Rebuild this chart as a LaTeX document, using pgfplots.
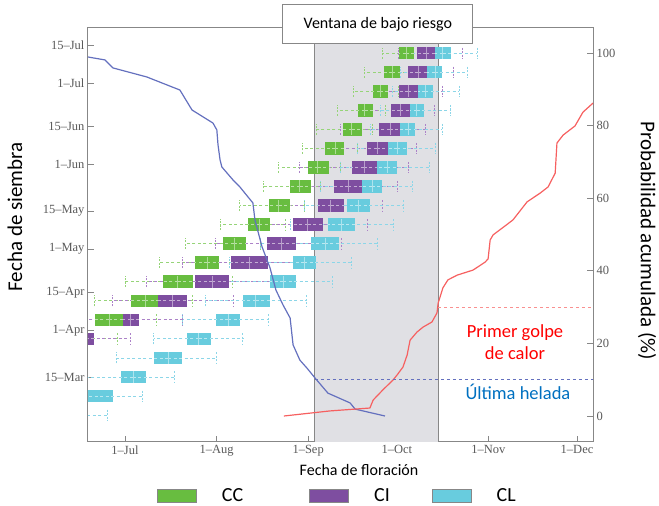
\documentclass[border=0pt]{standalone}
\usepackage{pgfplots}
\pgfplotsset{compat=1.18}
\usepackage{pgfplotstable}
\usepackage{fontspec}
\setmainfont{Carlito}
\newfontfamily\tickfont{Liberation Serif}

\definecolor{ccbox}{RGB}{104,189,64}
\definecolor{cibox}{RGB}{126,78,160}
\definecolor{clbox}{RGB}{104,204,222}
\definecolor{ccw}{RGB}{150,212,120}
\definecolor{ciw}{RGB}{172,130,200}
\definecolor{clw}{RGB}{140,214,232}
\definecolor{winbg}{RGB}{224,224,228}
\definecolor{framec}{RGB}{135,135,135}
\definecolor{bluecurve}{RGB}{100,112,190}
\definecolor{redcurve}{RGB}{246,96,96}
\definecolor{helada}{RGB}{0,112,192}

% sowing day-of-year, then flowering day-of-year: lower whisker, Q1, median, Q3, upper whisker
\pgfplotstableread{
row lw q1 med q3 uw
193 269.0 274.8 277.1 279.8 284.6
186 262.9 269.7 272.4 275.1 278.5
179 259.2 266.0 268.3 271.0 274.4
172 253.8 260.9 263.2 266.0 270.0
165 246.7 255.8 258.8 262.2 265.6
158 241.9 249.7 253.1 256.1 260.5
151 233.8 243.9 247.3 251.1 254.8
144 228.7 237.9 241.2 245.0 248.0
137 220.9 230.7 234.1 237.9 242.9
130 214.2 223.6 227.4 231.1 236.2
123 202.6 215.2 218.9 223.0 227.7
116 193.8 205.7 209.8 213.8 220.9
109 182.0 194.9 199.9 205.0 218.2
102 171.8 184.0 188.8 193.2 204.7
95 166.8 171.8 176.6 181.3 192.8
88 160.0 161.7 163.4 165.1 179.6
}\ccdata

\pgfplotstableread{
row lw q1 med q3 uw
193 274.4 280.8 283.9 286.9 296.1
186 270.0 277.8 281.2 284.2 293.0
179 266.6 274.8 277.8 281.2 289.6
172 261.6 272.0 275.1 278.5 286.6
165 254.8 268.0 271.7 275.1 283.6
158 249.7 263.9 267.3 271.0 280.8
151 241.2 258.8 262.9 267.3 277.8
144 237.9 252.8 257.5 262.2 274.1
137 231.1 247.3 251.7 256.1 269.0
130 224.3 238.9 243.9 249.0 263.9
123 212.5 230.1 234.8 239.9 255.1
116 201.3 217.9 224.0 230.4 241.2
109 189.4 205.7 211.5 217.2 231.1
102 177.6 193.2 197.9 203.0 218.6
95 168.5 181.3 184.0 186.7 201.3
88 163.4 166.1 168.8 171.5 183.7
}\cidata

\pgfplotstableread{
row lw q1 med q3 uw
193 279.2 286.9 289.6 292.4 301.2
186 275.1 284.2 286.9 289.3 297.8
179 272.4 281.2 283.6 286.3 295.1
172 268.3 278.5 280.8 283.2 292.0
165 264.9 275.1 277.8 280.2 289.3
158 260.5 271.0 274.1 277.5 286.9
151 254.8 267.3 270.7 274.1 284.9
144 248.0 262.2 265.6 269.0 279.2
137 242.9 257.2 260.9 264.9 276.1
130 237.9 250.7 255.1 259.9 272.7
123 227.7 245.0 249.7 254.4 267.3
116 217.5 238.9 242.6 246.7 258.8
109 215.9 231.1 235.5 239.9 252.1
102 209.1 221.9 226.3 231.1 243.3
95 201.6 212.8 216.9 220.9 230.4
88 191.8 203.0 207.0 211.1 221.9
81 179.0 191.8 196.6 201.3 213.1
74 165.0 180.6 184.7 189.1 198.9
67 158.0 164.0 168.0 177.9 187.8
60 150.0 155.0 160.0 165.0 175.9
}\cldata

\pgfplotsset{
  whisk/.style={forget plot, draw=none, mark=none,
    error bars/.cd, x dir=both, x explicit, error mark=|,
    error mark options={draw=#1, dash pattern=on 2pt off 1.5pt, mark size=5.5pt, line width=0.8pt},
    error bar style={draw=#1, line width=0.8pt, dash pattern=on 3pt off 2.5pt}},
  boxes/.style={forget plot, draw=none, mark=none,
    error bars/.cd, x dir=both, x explicit, error mark=none,
    error bar style={draw=#1, line width=12.5pt, solid}},
  inner/.style={forget plot, draw=none, mark=none,
    error bars/.cd, x dir=both, x explicit, error mark=none,
    error bar style={draw=#1, line width=0.8pt, dash pattern=on 3pt off 2.5pt}},
  medmark/.style={forget plot, only marks, mark=|, mark size=6pt,
    mark options={draw=#1, line width=0.8pt}},
}

\begin{document}
\begin{tikzpicture}
\useasboundingbox (-88pt,-64pt) rectangle (571pt,442pt);
\begin{axis}[
  at={(0pt,0pt)}, anchor=south west,
  scale only axis, width=505pt, height=414pt,
  xmin=169.5, xmax=340.4, ymin=50.1, ymax=202.25,
  xtick={182,213,244,274,305,335},
  xticklabels={1–Jul,1–Aug,1–Sep,1–Oct,1–Nov,1–Dec},
  ytick={74,91,105,121,135,152,166,182,196},
  yticklabels={15–Mar,1–Apr,15–Apr,1–May,15–May,1–Jun,15–Jun,1–Jul,15–Jul},
  xtick pos=bottom, ytick pos=left, tick align=inside,
  major tick length=6pt,
  tick style={framec, line width=0.8pt},
  axis line style={framec, line width=1pt},
  tick label style={font=\tickfont\fontsize{12.5}{14}\selectfont, text=black!65},
  xlabel={Fecha de floración},
  xlabel style={at={(axis description cs:0.5366,-0.0676)}, anchor=center, font=\fontsize{16}{18}\selectfont},
  ylabel={Fecha de siembra},
  ylabel style={at={(axis description cs:-0.1446,0.5435)}, anchor=center, font=\fontsize{21}{24}\selectfont},
  legend image code/.code={\draw[#1] (0pt,-6.5pt) rectangle (39pt,6.5pt);},
  legend columns=3,
  legend style={at={(axis description cs:0.1366,-0.1305)}, anchor=west,
    draw=none, fill=none, inner sep=0pt,
    font=\fontsize{20}{22}\selectfont,
    nodes={inner sep=0pt},
    /tikz/column 1/.style={column sep=25pt},
    /tikz/column 2/.style={column sep=66pt},
    /tikz/column 3/.style={column sep=25pt},
    /tikz/column 4/.style={column sep=42pt},
    /tikz/column 5/.style={column sep=25pt}},
]
% low-risk window
\addplot[forget plot, fill=winbg, draw=none] coordinates {(246.3,50.1) (246.3,202.25) (288.0,202.25) (288.0,50.1) (246.3,50.1)};
\addplot[forget plot, framec, line width=1pt] coordinates {(246.3,50.1) (246.3,202.25)};
\addplot[forget plot, framec, line width=1pt] coordinates {(288.0,50.1) (288.0,202.25)};

% whiskers
\addplot[whisk=ccw] table[x=med, y=row, x error minus expr=\thisrow{med}-\thisrow{lw}, x error plus expr=\thisrow{uw}-\thisrow{med}] {\ccdata};
\addplot[whisk=ciw] table[x=med, y=row, x error minus expr=\thisrow{med}-\thisrow{lw}, x error plus expr=\thisrow{uw}-\thisrow{med}] {\cidata};
\addplot[whisk=clw] table[x=med, y=row, x error minus expr=\thisrow{med}-\thisrow{lw}, x error plus expr=\thisrow{uw}-\thisrow{med}] {\cldata};
% boxes
\addplot[boxes=ccbox] table[x=med, y=row, x error minus expr=\thisrow{med}-\thisrow{q1}, x error plus expr=\thisrow{q3}-\thisrow{med}] {\ccdata};
\addplot[boxes=cibox] table[x=med, y=row, x error minus expr=\thisrow{med}-\thisrow{q1}, x error plus expr=\thisrow{q3}-\thisrow{med}] {\cidata};
\addplot[boxes=clbox] table[x=med, y=row, x error minus expr=\thisrow{med}-\thisrow{q1}, x error plus expr=\thisrow{q3}-\thisrow{med}] {\cldata};
% inner dashes and medians
\addplot[inner=ccbox!45!white] table[x=med, y=row, x error minus expr=\thisrow{med}-\thisrow{q1}, x error plus expr=\thisrow{q3}-\thisrow{med}] {\ccdata};
\addplot[inner=cibox!45!white] table[x=med, y=row, x error minus expr=\thisrow{med}-\thisrow{q1}, x error plus expr=\thisrow{q3}-\thisrow{med}] {\cidata};
\addplot[inner=clbox!45!white] table[x=med, y=row, x error minus expr=\thisrow{med}-\thisrow{q1}, x error plus expr=\thisrow{q3}-\thisrow{med}] {\cldata};
\addplot[medmark=ccbox!55!white] table[x=med, y=row] {\ccdata};
\addplot[medmark=cibox!55!white] table[x=med, y=row] {\cidata};
\addplot[medmark=clbox!55!white] table[x=med, y=row] {\cldata};

\addlegendimage{fill=ccbox, draw=framec, line width=0.8pt}
\addlegendentry{CC}
\addlegendimage{fill=cibox, draw=framec, line width=0.8pt}
\addlegendentry{CI}
\addlegendimage{fill=clbox, draw=framec, line width=0.8pt}
\addlegendentry{CL}
\end{axis}

\begin{axis}[
  at={(0pt,0pt)}, anchor=south west,
  scale only axis, width=505pt, height=414pt,
  xmin=169.5, xmax=340.4, ymin=-7.16, ymax=106.89,
  hide x axis, axis y line*=right, clip=false,
  ytick={0,20,40,60,80,100}, yticklabels={0,20,40,60,80,100},
  tick align=inside, major tick length=6pt,
  tick style={framec, line width=0.8pt},
  axis line style={framec, line width=1pt},
  tick label style={font=\tickfont\fontsize{12.5}{14}\selectfont, text=black!65},
  ylabel={Probabilidad acumulada (\%)},
  ylabel style={at={(axis description cs:1.107,0.4855)}, anchor=center, rotate=180, font=\fontsize{21}{24}\selectfont},
]
\addplot[bluecurve, line width=1.2pt, line join=round] coordinates {
(169.5,98.9) (175.2,98.1) (177.9,95.9) (189.4,93.4) (200.6,89.8) (204.7,84.3)
(211.8,80.7) (213.1,78.8) (213.5,74.7) (214.2,70.5) (214.8,68.6) (218.6,65.0)
(220.9,63.1) (225.3,58.7) (226.0,54.0) (228.4,46.6) (231.1,40.8) (233.1,34.7)
(235.5,30.6) (237.9,27.0) (238.9,19.6) (241.2,15.4) (243.6,13.2) (246.3,10.5)
(250.7,6.3) (258.2,3.6) (259.9,1.9) (270.0,0.0)};
\addplot[redcurve, line width=1.2pt, line join=round] coordinates {
(235.8,0.0) (251.4,1.4) (264.9,2.2) (266.0,4.4) (269.3,7.2) (272.7,9.9)
(274.1,11.3) (276.1,13.5) (277.5,16.8) (278.5,20.9) (280.8,23.1) (282.9,24.5)
(285.9,25.9) (287.6,28.4) (288.0,31.1) (289.6,35.3) (291.3,37.5) (294.4,38.8)
(299.8,40.2) (303.9,42.4) (304.9,43.3) (305.6,48.5) (306.6,49.9) (313.3,54.0)
(318.1,59.0) (322.5,61.4) (325.2,63.1) (327.6,66.9) (328.2,75.2) (330.3,77.4)
(334.3,79.9) (337.0,83.7) (340.4,86.2)};
\addplot[redcurve!70!white, line width=0.9pt, dash pattern=on 3pt off 3pt] coordinates {(288.0,30) (340.4,30)};
\addplot[bluecurve, line width=0.9pt, dash pattern=on 3pt off 3pt] coordinates {(246.3,10) (340.4,10)};

\node[text=red, align=center, font=\fontsize{18.5}{22}\selectfont] at (axis cs:314.0,20.4) {Primer golpe\\de calor};
\node[text=helada, font=\fontsize{18.5}{22}\selectfont] at (axis cs:315.0,6.6) {Última helada};
\node[draw=framec, fill=white, line width=1pt, minimum width=190pt, minimum height=39pt, inner sep=0pt, font=\fontsize{16}{19}\selectfont] at (axis cs:267.6,107.9) {Ventana de bajo riesgo};
\end{axis}
\end{tikzpicture}
\end{document}
